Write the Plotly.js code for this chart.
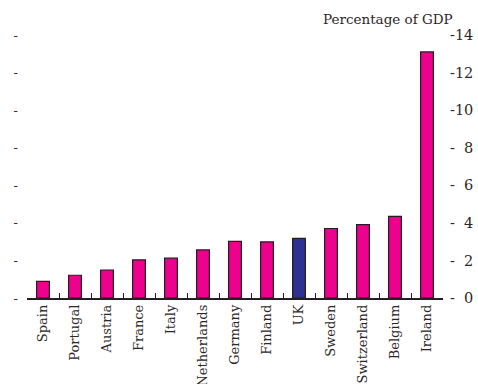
<!DOCTYPE html>
<html>
<head>
<meta charset="utf-8">
<script src="https://cdn.plot.ly/plotly-3.0.1.min.js"></script>
<style>html,body{margin:0;padding:0;background:#fff;}#chart{width:478px;height:384px;}</style>
</head>
<body>
<div id="chart"></div>
<script>
const countries = ["Spain","Portugal","Austria","France","Italy","Netherlands","Germany","Finland","UK","Sweden","Switzerland","Belgium","Ireland"];
const values = [0.89, 1.21, 1.49, 2.03, 2.12, 2.56, 3.01, 2.99, 3.17, 3.70, 3.91, 4.34, 13.1];
const highlight = "UK";
const yTickVals = [0, 2, 4, 6, 8, 10, 12, 14];
const yTickText = ["-\u00a0\u00a00", "-\u00a0\u00a02", "-\u00a0\u00a04", "-\u00a0\u00a06", "-\u00a0\u00a08", "-10", "-12", "-14"];
const axisTitle = "Percentage of GDP";

const font = "DejaVu Serif, Liberation Serif, serif";
const textColor = "#2b2728";

const trace = {
  type: "bar",
  x: countries,
  y: values,
  marker: {
    color: countries.map(c => c === highlight ? "#2E3192" : "#EC008C"),
    line: {color: "#231F20", width: 1.2}
  },
  hoverinfo: "none"
};

const layout = {
  width: 478, height: 384,
  margin: {l: 27, r: 35, t: 35, b: 86, pad: 0},
  paper_bgcolor: "#ffffff", plot_bgcolor: "#ffffff",
  showlegend: false,
  bargap: 0.6,
  font: {family: font, size: 13, color: textColor},
  xaxis: {
    type: "category",
    tickangle: -90,
    tickson: "boundaries",
    ticks: "inside", ticklen: 5, tickwidth: 1, tickcolor: "#231F20",
    showline: true, linecolor: "#231F20", linewidth: 1.5,
    showgrid: false, zeroline: false,
    tickfont: {family: font, size: 13, color: textColor}
  },
  yaxis: {
    range: [0, 14],
    tickvals: yTickVals,
    ticktext: yTickVals.map(() => "-"),
    ticks: "", showline: false, showgrid: false, zeroline: false,
    ticklabelstandoff: 8,
    tickfont: {family: font, size: 13, color: textColor}
  },
  yaxis2: {
    overlaying: "y", side: "right",
    range: [0, 14],
    tickvals: yTickVals,
    ticktext: yTickText,
    ticks: "", showline: false, showgrid: false, zeroline: false,
    ticklabelstandoff: 6,
    tickfont: {family: font, size: 14.5, color: textColor}
  },
  annotations: [{
    text: axisTitle, xref: "paper", yref: "paper",
    x: 1.03, y: 1.0, xanchor: "right", yanchor: "bottom", yshift: 6,
    showarrow: false,
    font: {family: font, size: 13.5, color: textColor}
  }]
};

Plotly.newPlot("chart", [trace, {type: "scatter", x: [], y: [], yaxis: "y2", hoverinfo: "none"}], layout, {staticPlot: true, displayModeBar: false});
</script>
</body>
</html>
